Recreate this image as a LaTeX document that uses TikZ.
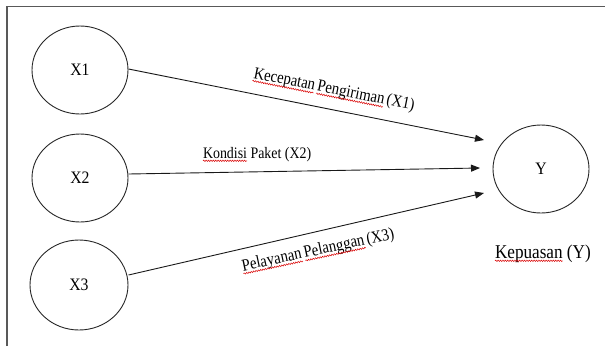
\documentclass[tikz,border=0pt]{standalone}
\usepackage{fontspec}
\setmainfont{Liberation Serif}
\newfontfamily\lblfont[FakeStretch=0.87]{Liberation Serif}
\newfontfamily\kfont[FakeStretch=0.88]{Liberation Serif}
\newfontfamily\vfont[FakeStretch=0.9]{Liberation Serif}
\usetikzlibrary{arrows.meta,shapes.geometric,decorations.pathmorphing}
\newcommand\lblsize{\lblfont\fontsize{17}{17}\selectfont}
\newcommand\kdsize{\lblfont\fontsize{16}{16}\selectfont}
\newcommand\kysize{\kfont\fontsize{19.5}{19.5}\selectfont}
\newlength\wKec \newlength\wPeng \newlength\wKon \newlength\wPly \newlength\wPlg \newlength\wKep
\AtBeginDocument{%
  \settowidth\wKec{\lblsize Kecepatan}%
  \settowidth\wPeng{\lblsize Pengiriman}%
  \settowidth\wKon{\kdsize Kondisi}%
  \settowidth\wPly{\lblsize Pelayanan}%
  \settowidth\wPlg{\lblsize Pelanggan}%
  \settowidth\wKep{\kysize Kepuasan}%
  \xdef\dKec{\the\wKec}\xdef\dPeng{\the\wPeng}\xdef\dKon{\the\wKon}%
  \xdef\dPly{\the\wPly}\xdef\dPlg{\the\wPlg}\xdef\dKep{\the\wKep}}
\tikzset{
  var/.style={draw=black!85, line width=0.9pt, ellipse, minimum width=96pt, minimum height=88pt, inner sep=0pt, font=\vfont\fontsize{17.5}{17.5}\selectfont},
  lbl/.style={inner sep=0pt, outer sep=0pt, anchor=base west, font=\lblsize},
  link/.style={draw=black!90, line width=0.9pt, -{Triangle[length=9pt,width=7pt]}},
  frame/.style={draw=black!65, line width=1.3pt},
  squig/.style={draw=red!85!black, line width=0.5pt, decorate, decoration={snake, amplitude=0.7pt, segment length=2.4pt}}
}
\begin{document}
\begin{tikzpicture}[x=1pt,y=-1pt]
\useasboundingbox (0,0) rectangle (605,346);
\draw[frame] (7,346) -- (7,6.5) -- (605,6.5);
\node[var] (x1) at (80,70) {X1};
\node[var] (x2) at (80,178) {X2};
\node[var, minimum width=98pt, minimum height=90pt] (x3) at (79,285) {X3};
\node[var] (y) at (541,169) {Y};
\coordinate (t1) at (484,140);
\coordinate (t2) at (480,168);
\coordinate (t3) at (484,193);
\coordinate (s1) at (128.5,69);
\coordinate (s2) at (128.5,174);
\coordinate (s3) at (128.5,275);
\draw[link] (s1) -- (t1);
\draw[link] (s2) -- (t2);
\draw[link] (s3) -- (t3);
% label X1
\node[lbl, rotate=-11.3] (l1) at (253,78) {Kecepatan\hspace{2.5pt}Pengiriman\hspace{2.5pt}(X1)};
\draw[squig, shift={(l1.base west)}, rotate=-11.3] (0pt,-2.8pt) -- (\dKec,-2.8pt);
\draw[squig, shift={(l1.base west)}, rotate=-11.3] (\dKec+2.5pt,-2.8pt) -- (\dKec+2.5pt+\dPeng,-2.8pt);
% label X2
\node[lbl, font=\kdsize] (l2) at (203,158) {Kondisi Paket (X2)};
\draw[squig, shift={(l2.base west)}] (0pt,-2.8pt) -- (\dKon,-2.8pt);
% label X3
\node[lbl, rotate=12] (l3) at (243,271) {Pelayanan\hspace{2.5pt}Pelanggan\hspace{2.5pt}(X3)};
\draw[squig, shift={(l3.base west)}, rotate=12] (0pt,-2.8pt) -- (\dPly,-2.8pt);
\draw[squig, shift={(l3.base west)}, rotate=12] (\dPly+2.5pt,-2.8pt) -- (\dPly+2.5pt+\dPlg,-2.8pt);
% label Y
\node[lbl, font=\kysize] (ky) at (495,258) {Kepuasan (Y)};
\draw[squig, shift={(ky.base west)}] (0pt,-2.8pt) -- (\dKep,-2.8pt);
\end{tikzpicture}
\end{document}
